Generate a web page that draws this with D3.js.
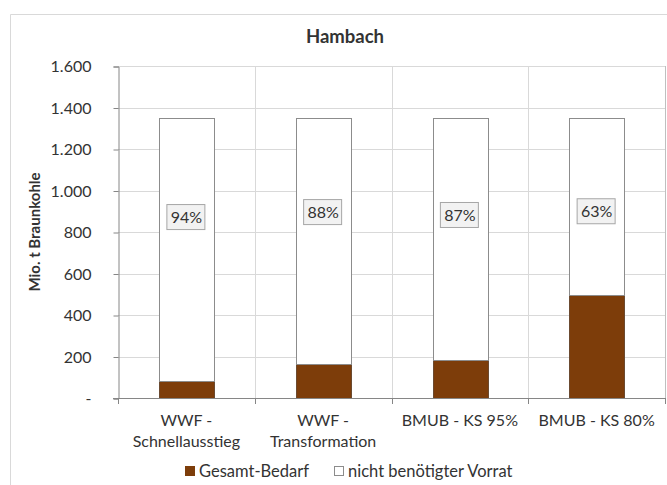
<!DOCTYPE html>
<html>
<head>
<script src="https://d3js.org/d3.v7.min.js"></script>
<style>
    body { margin: 0; background: #fff; }
    text { font-family: Lato, "Open Sans", sans-serif; fill: #333; }
</style>
</head>
<body>
<script>
// data
var categories = ['WWF -\nSchnellausstieg', 'WWF -\nTransformation', 'BMUB - KS 95%', 'BMUB - KS 80%'];
var gesamtBedarf = [80, 163, 182, 496];
var nichtBenoetigt = [1270, 1187, 1168, 854];
var pctLabels = ['94%', '88%', '87%', '63%'];
var labelAt = [872, 896, 882, 900];   // where each % box sits, in Mio. t
var yTicks = [0, 200, 400, 600, 800, 1000, 1200, 1400, 1600];
var seriesNames = ['Gesamt-Bedarf', 'nicht benötigter Vorrat'];

var width = 667, height = 485;
var mLeft = 118, mRight = 665, mTop = 66, mBottom = 398;
var brown = '#7d3d0a';

var svg = d3.select('body').append('svg')
    .attr('width', width)
    .attr('height', height);

// chart area frame
svg.append('path')
    .attr('d', 'M10.5,' + height + 'V14.5H' + width)
    .attr('fill', 'none')
    .attr('stroke', '#d9d9d9');

var rows = categories.map(function (c, i) {
    return { cat: c, bedarf: gesamtBedarf[i], vorrat: nichtBenoetigt[i] };
});

var x = d3.scaleBand().domain(categories).range([mLeft, mRight]);
var y = d3.scaleLinear().domain([0, 1600]).range([mBottom, mTop]);

// grid
svg.append('g').selectAll('line')
    .data(yTicks.slice(1))
    .enter().append('line')
    .attr('x1', mLeft).attr('x2', mRight)
    .attr('y1', d => Math.round(y(d)) + 0.5).attr('y2', d => Math.round(y(d)) + 0.5)
    .attr('stroke', '#d9d9d9');

svg.append('g').selectAll('line')
    .data(d3.range(1, categories.length + 1))
    .enter().append('line')
    .attr('x1', i => Math.round(mLeft + x.step() * i) + 0.5)
    .attr('x2', i => Math.round(mLeft + x.step() * i) + 0.5)
    .attr('y1', mTop).attr('y2', mBottom)
    .attr('stroke', (i) => i == categories.length ? '#bfbfbf' : '#d9d9d9');

// stacked bars
var stack = d3.stack().keys(['bedarf', 'vorrat']);
var layers = stack(rows);
var barW = x.bandwidth() * 0.4;

svg.append('g').selectAll('g')
    .data(layers)
    .enter().append('g')
    .attr('fill', (d, i) => i == 0 ? brown : '#fff')
    .attr('stroke', (d, i) => i == 0 ? '#6b4a30' : '#8c8c8c')
    .selectAll('rect')
    .data(d => d)
    .enter().append('rect')
    .attr('x', d => Math.round(x(d.data.cat) + (x.bandwidth() - barW) / 2) + 0.5)
    .attr('y', d => Math.round(y(d[1])) + 0.5)
    .attr('width', Math.round(barW))
    .attr('height', d => Math.round(y(d[0])) - Math.round(y(d[1])));

// % labels
var lab = svg.append('g').selectAll('g')
    .data(pctLabels)
    .enter().append('g')
    .attr('transform', (d, i) => 'translate(' + (x(categories[i]) + x.bandwidth() / 2) + ',' + y(labelAt[i]) + ')');

lab.append('rect')
    .attr('x', -19.5).attr('y', -12.5)
    .attr('width', 38).attr('height', 25)
    .attr('fill', '#f2f2f2')
    .attr('stroke', '#a6a6a6');

lab.append('text')
    .attr('text-anchor', 'middle')
    .attr('dy', '0.36em')
    .style('font-size', '16px')
    .text(d => d);

// y axis
var yAxis = d3.axisLeft(y)
    .tickValues(yTicks)
    .tickSize(5)
    .tickPadding(22)
    .tickFormat(d => d == 0 ? '-' : d3.format(',')(d).replace(/,/g, '.'));

var gy = svg.append('g')
    .attr('transform', 'translate(' + (mLeft + 0.5) + ',0.5)')
    .call(yAxis);
gy.selectAll('path, line').attr('stroke', '#868686');
gy.selectAll('text').style('font-size', '16px').style('font-family', 'Lato, sans-serif').attr('fill', '#333');

// x axis line + ticks between categories
var gx = svg.append('g');
gx.append('line')
    .attr('x1', mLeft - 5).attr('x2', mRight + 1)
    .attr('y1', mBottom + 0.5).attr('y2', mBottom + 0.5)
    .attr('stroke', '#868686');
gx.selectAll('line.tick')
    .data(d3.range(categories.length + 1))
    .enter().append('line')
    .attr('class', 'tick')
    .attr('x1', i => Math.round(mLeft + x.step() * i) + 0.5)
    .attr('x2', i => Math.round(mLeft + x.step() * i) + 0.5)
    .attr('y1', mBottom).attr('y2', mBottom + 6)
    .attr('stroke', '#868686');

var xl = svg.append('g').selectAll('text')
    .data(categories)
    .enter().append('text')
    .attr('text-anchor', 'middle')
    .attr('x', d => x(d) + x.bandwidth() / 2)
    .attr('y', 426)
    .style('font-size', '16px');
xl.selectAll('tspan')
    .data(d => d.split('\n'))
    .enter().append('tspan')
    .attr('x', function () { return this.parentNode.getAttribute('x'); })
    .attr('dy', (d, i) => i == 0 ? 0 : 21)
    .text(d => d);

// titles
svg.append('text')
    .attr('x', 345).attr('y', 43)
    .attr('text-anchor', 'middle')
    .style('font-size', '18.5px')
    .style('font-weight', 'bold')
    .attr('fill', '#000')
    .text('Hambach');

svg.append('text')
    .attr('transform', 'translate(35,' + (mTop + mBottom) / 2 + ') rotate(-90)')
    .attr('text-anchor', 'middle')
    .attr('dy', '0.36em')
    .style('font-size', '15px')
    .style('font-weight', 'bold')
    .attr('fill', '#000')
    .text('Mio. t Braunkohle');

// legend
var legend = svg.append('g').attr('transform', 'translate(185,471)');
var items = legend.selectAll('g')
    .data(seriesNames)
    .enter().append('g')
    .attr('transform', (d, i) => 'translate(' + (i * 149) + ',0)');
items.append('rect')
    .attr('x', 0.5).attr('y', -4.5)
    .attr('width', 9).attr('height', 9)
    .attr('fill', (d, i) => i == 0 ? brown : '#fff')
    .attr('stroke', (d, i) => i == 0 ? brown : '#8c8c8c');
items.append('text')
    .attr('x', 14).attr('dy', '0.36em')
    .style('font-size', '16.5px')
    .text(d => d);
</script>
</body>
</html>
